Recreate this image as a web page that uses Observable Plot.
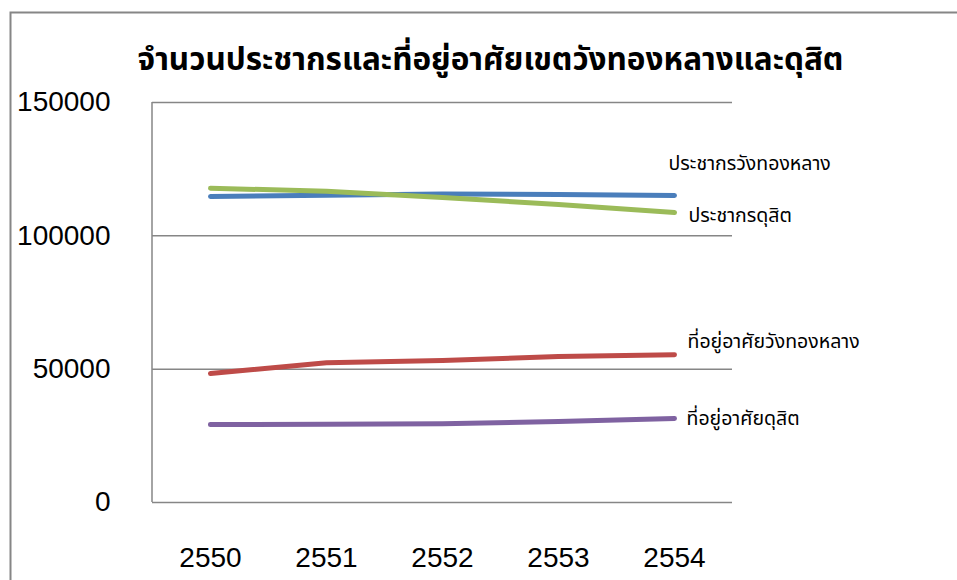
<!DOCTYPE html>
<html>
<head>
<meta charset="utf-8">
<script src="https://cdn.jsdelivr.net/npm/d3@7"></script>
<script src="https://cdn.jsdelivr.net/npm/@observablehq/plot@0.6"></script>
<style>
  html, body { margin: 0; padding: 0; background: #fff; }
  svg { display: block; }
</style>
</head>
<body>
<div id="chart"></div>
<script>
const title = "จำนวนประชากรและที่อยู่อาศัยเขตวังทองหลางและดุสิต";
const years = ["2550", "2551", "2552", "2553", "2554"];
const seriesNames = ["ประชากรวังทองหลาง", "ประชากรดุสิต", "ที่อยู่อาศัยวังทองหลาง", "ที่อยู่อาศัยดุสิต"];
const popWangThongLang = [114750, 115250, 115700, 115500, 115100];
const popDusit = [117850, 116750, 114400, 111750, 108750];
const houseWangThongLang = [48400, 52400, 53250, 54750, 55400];
const houseDusit = [29250, 29300, 29500, 30400, 31500];
const yTicks = [0, 50000, 100000, 150000];

const seriesValues = [popWangThongLang, popDusit, houseWangThongLang, houseDusit];
const colors = ["#4a7ebb", "#9bbb59", "#be4b48", "#7f62a1"];
const labelOffsets = [[-6, -32], [14, 3], [13, -13], [12, 0]];

const rows = [];
seriesNames.forEach((s, i) => years.forEach((y, j) => rows.push({series: s, year: y, value: seriesValues[i][j]})));
const lastRows = seriesNames.map((s, i) => ({series: s, year: years[years.length - 1], value: seriesValues[i][years.length - 1], i}));

const thaiFont = "'Noto Sans Thai', 'Noto Sans Thai Looped', Tahoma, 'DejaVu Sans', sans-serif";
const numFont = "'Liberation Sans', Arial, sans-serif";

const chart = Plot.plot({
  width: 957,
  height: 580,
  marginLeft: 152,
  marginRight: 225,
  marginTop: 102,
  marginBottom: 78,
  style: {fontFamily: numFont, background: "#fff", overflow: "visible"},
  x: {type: "point", domain: years, padding: 0.5, align: 0.5, label: null},
  y: {domain: [0, 150000], label: null},
  color: {domain: seriesNames, range: colors},
  marks: [
    () => {
      const r = d3.create("svg:path")
        .attr("d", "M10.5,600 V12.5 H970")
        .attr("fill", "none").attr("stroke", "#868686").attr("stroke-width", 2);
      return r.node();
    },
    Plot.gridY(yTicks, {stroke: "#868686", strokeOpacity: 1, strokeWidth: 1.5}),
    (index, scales, values, dim) => {
      const l = d3.create("svg:line")
        .attr("x1", dim.marginLeft).attr("x2", dim.marginLeft)
        .attr("y1", dim.marginTop).attr("y2", dim.height - dim.marginBottom)
        .attr("stroke", "#868686").attr("stroke-width", 1.5);
      return l.node();
    },
    Plot.axisY(yTicks, {tickSize: 0, tickPadding: 42, fontSize: 28, fontFamily: numFont, tickFormat: d => String(d), fill: "#000"}),
    Plot.axisX(years, {tickSize: 0, tickPadding: 45, fontSize: 28, fontFamily: numFont, fill: "#000"}),
    Plot.line(rows, {x: "year", y: "value", z: "series", stroke: "series", strokeWidth: 5, strokeLinecap: "round", strokeLinejoin: "round"}),
    ...lastRows.map(d => Plot.text([d], {
      x: "year", y: "value", text: "series", textAnchor: "start",
      dx: labelOffsets[d.i][0], dy: labelOffsets[d.i][1],
      fontSize: 19.5, fontFamily: thaiFont, fill: "#000"
    })),
    Plot.text([title], {frameAnchor: "top", dx: 48, dy: -55, fontSize: 31.5, fontWeight: "bold", fontFamily: thaiFont, fill: "#000"})
  ]
});
document.getElementById("chart").appendChild(chart);
</script>
</body>
</html>
